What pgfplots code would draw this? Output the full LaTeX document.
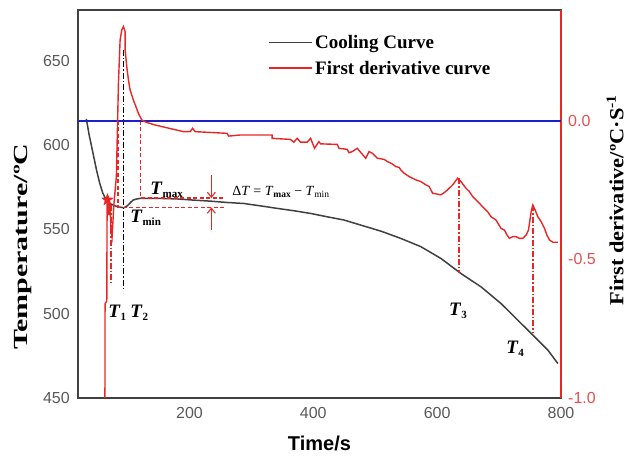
\documentclass[border=0pt]{standalone}
\usepackage{pgfplots}
\pgfplotsset{compat=1.18}
\usepackage{fontspec}
\setmainfont{Liberation Serif}
\newfontfamily\arial{Liberation Sans}
\usetikzlibrary{arrows.meta}
\definecolor{cool}{RGB}{64,64,64}
\definecolor{dred}{RGB}{232,38,38}
\definecolor{bl}{RGB}{30,30,200}
\definecolor{tickgray}{RGB}{89,89,89}
\definecolor{tickred}{RGB}{232,78,78}
\pgfdeclareplotmark{fstar}{%
  \pgfpathmoveto{\pgfpointpolar{90}{\pgfplotmarksize}}%
  \pgfpathlineto{\pgfpointpolar{126}{0.4\pgfplotmarksize}}%
  \pgfpathlineto{\pgfpointpolar{162}{\pgfplotmarksize}}%
  \pgfpathlineto{\pgfpointpolar{198}{0.4\pgfplotmarksize}}%
  \pgfpathlineto{\pgfpointpolar{234}{\pgfplotmarksize}}%
  \pgfpathlineto{\pgfpointpolar{270}{0.4\pgfplotmarksize}}%
  \pgfpathlineto{\pgfpointpolar{306}{\pgfplotmarksize}}%
  \pgfpathlineto{\pgfpointpolar{342}{0.4\pgfplotmarksize}}%
  \pgfpathlineto{\pgfpointpolar{18}{\pgfplotmarksize}}%
  \pgfpathlineto{\pgfpointpolar{54}{0.4\pgfplotmarksize}}%
  \pgfpathclose
  \pgfusepathqfillstroke}
\newcommand\Tl[1]{\textbf{\textit{T}}\raisebox{-3.5pt}{\fontsize{11}{11}\selectfont\bfseries #1}}
\begin{document}
\begin{tikzpicture}
\begin{axis}[
  at={(0,0)}, anchor=south west,
  scale only axis, width=483pt, height=388pt,
  xmin=20, xmax=800, ymin=450, ymax=680,
  xtick={200,400,600,800}, ytick={450,500,550,600,650},
  major tick length=0pt,
  axis line style={line width=1.6pt, draw=cool},
  /pgf/number format/assume math mode=true,
  ticklabel style={font=\arial\fontsize{16}{16}\selectfont, text=tickgray, inner sep=0pt},
  yticklabel style={xshift=-8pt},
  xticklabel style={yshift=-9pt},
  xlabel={\arial\bfseries\fontsize{20}{20}\selectfont Time/s},
  xlabel style={at={(axis description cs:0.5,0)}, anchor=north, yshift=-38pt, inner sep=0pt},
  ylabel={\scalebox{1.5}[1]{\bfseries\fontsize{20}{20}\selectfont Temperature/ºC}},
  ylabel style={at={([xshift=-55pt]axis description cs:0,0.39)}, anchor=center, inner sep=0pt},
]
\addplot[cool, line width=1.5pt] coordinates {
(33.5,615.4) (38,606) (44,595.5) (50,585) (55,577.4) (60,571.5) (65.8,567.3) (70,565.5) (76.7,564.4) (84,563.3) (90,563) (94,562.8) (98,563.5) (101,564.4) (105,566) (109,567.3) (115,568) (120,568.3) (152.8,568.3) (180,568) (206.7,567.3) (233.7,566.7) (260.7,565.9) (287.7,565.3) (314.7,563.9) (341.7,562.4) (368.7,561.0) (395.6,559.4) (422.6,557.4) (449.6,555.5) (476.6,552.5) (510,548.8) (541.3,544.6) (573.7,539.7) (606.1,532.7) (638.4,523.8) (670.8,515.9) (703.2,506.0) (735.6,494.2) (757.2,486.3) (778.8,478.4) (795,470.4)};
% T2 black dash-dot
\addplot[black, line width=1.3pt, dash pattern=on 6pt off 2pt on 1.5pt off 2pt] coordinates {(93.7,656.3) (93.7,514)};
% red dash-dot verticals
\addplot[dred, line width=1.3pt, dash pattern=on 6pt off 2pt on 1.5pt off 2pt] coordinates {(73.4,564.4) (73.4,518)};
\addplot[dred, line width=1.3pt, dash pattern=on 6pt off 2pt on 1.5pt off 2pt] coordinates {(635.2,580.4) (635.2,524)};
\addplot[dred, line width=1.3pt, dash pattern=on 6pt off 2pt on 1.5pt off 2pt] coordinates {(755,564.4) (755,488.5)};
% dashed Tmin / Tmax
\addplot[dred, line width=1.3pt, dash pattern=on 4pt off 2.5pt] coordinates {(84.8,614.3) (84.8,563) (258,563)};
\addplot[dred, line width=1.3pt, dash pattern=on 4pt off 2.5pt] coordinates {(121,614.3) (121,568.5) (258,568.5)};
% arrows
\addplot[dred, line width=1.1pt, -{Straight Barb[length=5pt,width=8pt]}] coordinates {(235.4,582.2) (235.4,568.5)};
\addplot[dred, line width=1.1pt, -{Straight Barb[length=5pt,width=8pt]}] coordinates {(235.4,549.5) (235.4,563)};
% labels
\node[anchor=base west, inner sep=0pt, font=\fontsize{19}{19}\selectfont] at (axis cs:68.6,497.9) {\Tl{1}};
\node[anchor=base west, inner sep=0pt, font=\fontsize{19}{19}\selectfont] at (axis cs:104.2,497.9) {\Tl{2}};
\node[anchor=base west, inner sep=0pt, font=\fontsize{19}{19}\selectfont] at (axis cs:619,499.1) {\Tl{3}};
\node[anchor=base west, inner sep=0pt, font=\fontsize{19}{19}\selectfont] at (axis cs:711.3,476.6) {\Tl{4}};
\node[anchor=base west, inner sep=0pt, font=\fontsize{19}{19}\selectfont] at (axis cs:136.6,570.9) {\Tl{max}};
\node[anchor=base west, inner sep=0pt, font=\fontsize{19}{19}\selectfont] at (axis cs:104.2,554.3) {\Tl{min}};
\node[anchor=base west, inner sep=0pt, font=\fontsize{14}{14}\selectfont] at (axis cs:268.8,570.3) {Δ\textit{T} = \textit{T}\raisebox{-2.5pt}{\fontsize{9.5}{9.5}\selectfont\bfseries max} − \textit{T}\raisebox{-2.5pt}{\fontsize{9.5}{9.5}\selectfont min}};
\end{axis}
\begin{axis}[
  at={(0,0)}, anchor=south west,
  scale only axis, width=483pt, height=388pt,
  xmin=20, xmax=800, ymin=-1, ymax=0.4,
  axis x line=none, axis y line*=right,
  y axis line style={line width=1.6pt, draw=dred},
  ytick={-1,-0.5,0}, yticklabels={-1.0,-0.5,0.0},
  major tick length=0pt,
  yticklabel style={font=\arial\fontsize{16}{16}\selectfont, text=tickred, inner sep=0pt, xshift=7pt},
  ylabel={\scalebox{1.12}[1]{\bfseries\fontsize{20}{20}\selectfont First derivative/ºC·S\textsuperscript{-1}}},
  ylabel style={at={([xshift=54pt]axis description cs:1,0.51)}, anchor=center, inner sep=0pt},
  legend style={at={(axis description cs:0.3934,0.942)}, anchor=north west, draw=none, fill=none,
    font=\bfseries\fontsize{19}{19}\selectfont, row sep=6pt, inner sep=0pt, nodes={inner sep=2.5pt}, cells={anchor=west}},
  legend image code/.code={\draw[#1] (0pt,0pt) -- (43pt,0pt);},
]
\addplot[bl, line width=1.6pt, forget plot] coordinates {(20,0) (800,0)};
\addplot[dred, line width=1.4pt, forget plot] coordinates {
(63.5,-1.0) (63.7,-0.66) (66.5,-0.65) (67,-0.30) (68.5,-0.27) (70,-0.34) (71.5,-0.30) (73.5,-0.40) (75,-0.42) (76.5,-0.36) (78,-0.30) (80,-0.25) (82,-0.20) (85.3,0.135) (88,0.292) (90.7,0.328) (93.4,0.34) (96.1,0.322) (96.1,0.256) (98.8,0.195) (101.5,0.147) (104.2,0.111) (109.5,0.075) (117.6,0.027) (123.1,0.003) (130,-0.005) (144.7,-0.015) (163.6,-0.025) (190.5,-0.039) (201.3,-0.039) (205,-0.027) (209.4,-0.039) (260.7,-0.045) (263.4,-0.055) (282,-0.051) (333.6,-0.051) (333.6,-0.063) (363,-0.067) (368.6,-0.077) (374,-0.063) (379.4,-0.077) (390,-0.077) (395.6,-0.063) (402,-0.099) (409,-0.075) (411.8,-0.083) (438.8,-0.085) (441.4,-0.099) (455,-0.103) (457.6,-0.115) (463,-0.111) (471,-0.099) (477.7,-0.117) (484.7,-0.135) (490,-0.111) (495.5,-0.117) (503.6,-0.135) (514.3,-0.139) (519.8,-0.147) (527.9,-0.156) (533.2,-0.165) (538.6,-0.168)
(541.3,-0.177) (546.7,-0.189) (554.8,-0.201) (565.6,-0.213) (573.7,-0.219) (581.8,-0.231) (587.2,-0.237) (592.6,-0.261) (606.1,-0.267) (611.5,-0.259) (616.9,-0.249) (625,-0.231) (633.0,-0.207) (638.4,-0.219) (646.5,-0.243) (651.9,-0.255) (657.3,-0.273) (665.4,-0.291) (673.5,-0.310) (681.6,-0.328) (687.0,-0.346) (695.1,-0.358) (703.2,-0.388) (708.6,-0.394) (712.9,-0.412) (716.7,-0.424) (722.1,-0.418) (727.5,-0.418) (732.9,-0.424) (738.3,-0.424) (743.7,-0.412) (747.5,-0.394) (751.8,-0.328) (754.5,-0.304) (758.3,-0.322) (762.6,-0.346) (768.0,-0.364) (773.4,-0.388) (777.2,-0.412) (781.5,-0.430) (786.9,-0.438) (795.0,-0.438)};
\addplot[dred, only marks, mark=fstar, mark size=6pt, forget plot] coordinates {(67.5,-0.285)};
\addlegendimage{draw=cool, line width=1.5pt}
\addlegendentry{Cooling Curve}
\addlegendimage{draw=dred, line width=1.5pt}
\addlegendentry{First derivative curve}
\end{axis}
\pgfresetboundingbox
\path[use as bounding box] (-78pt,-59pt) rectangle (554pt,398pt);
\end{tikzpicture}
\end{document}
